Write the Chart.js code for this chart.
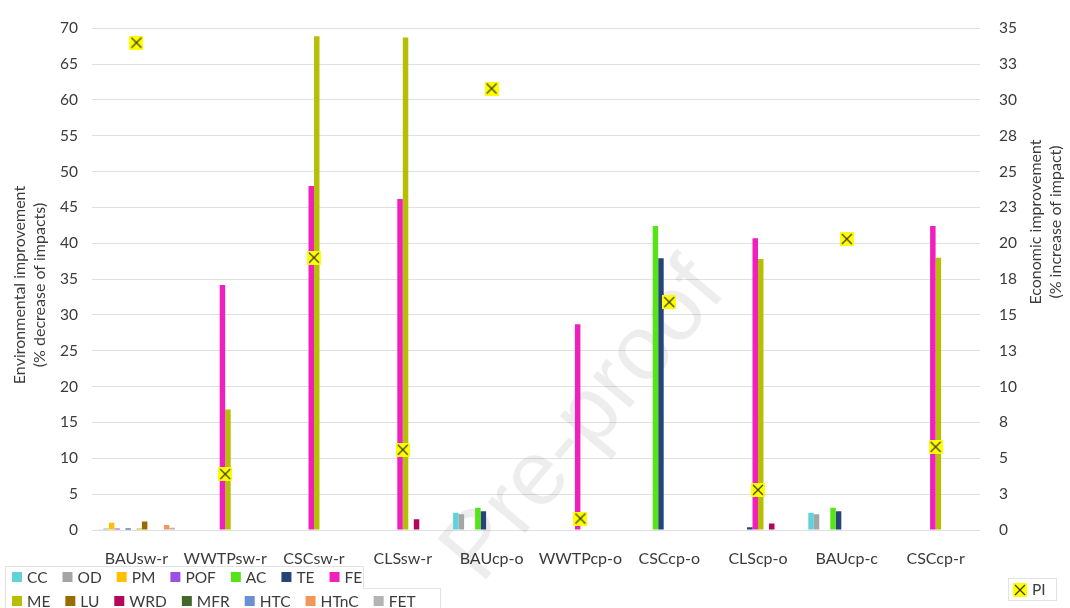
<!DOCTYPE html>
<html>
<head>
<meta charset="utf-8">
<script src="https://cdn.jsdelivr.net/npm/chart.js@4.4.0/dist/chart.umd.min.js"></script>
<style>
  html, body { margin: 0; padding: 0; background: #ffffff; }
  #wrap { width: 1070px; height: 608px; position: relative; }
</style>
</head>
<body>
<div id="wrap"><canvas id="c" width="1070" height="608"></canvas></div>
<script>
// Scenarios on the category axis
const categories = ['BAUsw-r', 'WWTPsw-r', 'CSCsw-r', 'CLSsw-r', 'BAUcp-o', 'WWTPcp-o', 'CSCcp-o', 'CLScp-o', 'BAUcp-c', 'CSCcp-r'];

// Environmental improvement per impact category (% decrease of impacts)
const ccValues   = [0.1, 0, 0, 0, 2.4, 0, 0, 0, 2.4, 0];
const odValues   = [0.2, 0, 0, 0, 2.2, 0, 0, 0, 2.2, 0];
const pmValues   = [1.0, 0, 0, 0, 0, 0, 0, 0, 0, 0];
const pofValues  = [0.2, 0, 0, 0, 0, 0, 0, 0, 0, 0];
const acValues   = [0, 0, 0, 0, 3.1, 0, 42.4, 0, 3.1, 0];
const teValues   = [0.2, 0, 0, 0, 2.6, 0, 37.9, 0.4, 2.6, 0];
const feValues   = [0, 34.2, 48.0, 46.2, 0, 28.7, 0, 40.7, 0, 42.4];
const meValues   = [0.2, 16.8, 68.9, 68.7, 0, 0, 0, 37.8, 0, 38.0];
const luValues   = [1.2, 0, 0, 0, 0, 0, 0, 0, 0, 0];
const wrdValues  = [0, 0, 0, 1.5, 0, 0, 0, 0.9, 0, 0];
const mfrValues  = [0, 0, 0, 0, 0, 0, 0, 0, 0, 0];
const htcValues  = [0, 0, 0, 0, 0, 0, 0, 0, 0, 0];
const htncValues = [0.7, 0, 0, 0, 0, 0, 0, 0, 0, 0];
const fetValues  = [0.3, 0, 0, 0, 0, 0, 0, 0, 0, 0];

// Economic improvement (% increase of impact), right axis
const piValues = [34.0, 3.9, 19.0, 5.6, 30.8, 0.8, 15.9, 2.8, 20.3, 5.8];

// Axis tick labels
const leftTickLabels  = ['0', '5', '10', '15', '20', '25', '30', '35', '40', '45', '50', '55', '60', '65', '70'];
const rightTickLabels = ['0', '3', '5', '8', '10', '13', '15', '18', '20', '23', '25', '28', '30', '33', '35'];

const FONT = 'Lato, "Open Sans", sans-serif';
const TEXT = '#3b3b3b';

// Yellow square with an X, used for the PI points and its legend key
function makeMarker(size) {
  const c = document.createElement('canvas');
  c.width = size; c.height = size;
  const g = c.getContext('2d');
  g.fillStyle = '#ffff00';
  g.fillRect(0, 0, size, size);
  g.strokeStyle = '#3f3f10';
  g.lineWidth = 1.3;
  g.beginPath();
  g.moveTo(2, 2); g.lineTo(size - 2, size - 2);
  g.moveTo(size - 2, 2); g.lineTo(2, size - 2);
  g.stroke();
  return c;
}
const piMarker = makeMarker(14);

function barSet(label, data, color) {
  return { type: 'bar', label, data, backgroundColor: color, borderWidth: 0, yAxisID: 'y', order: 2 };
}

const datasets = [
  barSet('CC', ccValues, '#62d2da'),
  barSet('OD', odValues, '#a5a5a5'),
  barSet('PM', pmValues, '#ffc000'),
  barSet('POF', pofValues, '#9d4fe3'),
  barSet('AC', acValues, '#57e319'),
  barSet('TE', teValues, '#264478'),
  barSet('FE', feValues, '#f020bd'),
  barSet('ME', meValues, '#b6bf05'),
  barSet('LU', luValues, '#9a6c00'),
  barSet('WRD', wrdValues, '#b3085a'),
  barSet('MFR', mfrValues, '#43682b'),
  barSet('HTC', htcValues, '#6a8fd2'),
  barSet('HTnC', htncValues, '#f1975a'),
  barSet('FET', fetValues, '#b4b4b4'),
  {
    type: 'line', label: 'PI', data: piValues, yAxisID: 'y2', order: 1,
    showLine: false, pointStyle: piMarker, pointRadius: 7, pointHoverRadius: 7,
    backgroundColor: '#ffff00', borderColor: '#3f3f10'
  }
];

// Faint "Pre-proof" stamp behind the bars
const stampPlugin = {
  id: 'stamp',
  beforeDatasetsDraw(chart) {
    const ctx = chart.ctx;
    ctx.save();
    ctx.translate(585, 422);
    ctx.rotate(-50 * Math.PI / 180);
    ctx.font = '92px "Liberation Sans", Arial, sans-serif';
    ctx.fillStyle = 'rgba(0,0,0,0.07)';
    ctx.textAlign = 'center';
    ctx.textBaseline = 'middle';
    ctx.fillText('Pre-proof', 0, 0);
    ctx.restore();
  }
};

// Axis titles (both read bottom-to-top) and the two-row legend
const decorPlugin = {
  id: 'decor',
  afterDraw(chart) {
    const ctx = chart.ctx;
    ctx.save();
    ctx.fillStyle = TEXT;
    ctx.font = '16px ' + FONT;
    ctx.textAlign = 'center';
    ctx.textBaseline = 'middle';

    const titles = [
      { x: 20, y: 285, lines: ['Environmental improvement', '(% decrease of impacts)'] },
      { x: 1036, y: 222, lines: ['Economic improvement', '(% increase of impact)'] }
    ];
    titles.forEach(t => {
      t.lines.forEach((line, i) => {
        ctx.save();
        ctx.translate(t.x + i * 20, t.y);
        ctx.rotate(-Math.PI / 2);
        ctx.fillText(line, 0, 0);
        ctx.restore();
      });
    });

    // legend frame
    ctx.strokeStyle = '#e2e2e2';
    ctx.lineWidth = 1;
    ctx.beginPath();
    ctx.moveTo(5.5, 608); ctx.lineTo(5.5, 566.5); ctx.lineTo(363.5, 566.5);
    ctx.lineTo(363.5, 588.5); ctx.lineTo(440.5, 588.5); ctx.lineTo(440.5, 608);
    ctx.stroke();
    ctx.strokeRect(1008.5, 578.5, 48, 22);

    // legend entries
    ctx.font = '15.5px ' + FONT;
    ctx.textAlign = 'left';
    const bars = chart.data.datasets.filter(d => d.type === 'bar');
    const rows = [bars.slice(0, 7), bars.slice(7)];
    const rowY = [577, 601];
    rows.forEach((row, r) => {
      let x = 12;
      row.forEach(d => {
        ctx.fillStyle = d.backgroundColor;
        ctx.fillRect(x, rowY[r] - 5, 10, 10);
        ctx.fillStyle = TEXT;
        ctx.fillText(d.label, x + 15, rowY[r] + 1);
        x += 15 + ctx.measureText(d.label).width + 15;
      });
    });
    const pi = chart.data.datasets.find(d => d.label === 'PI');
    ctx.drawImage(pi.pointStyle, 1013, 583);
    ctx.fillStyle = TEXT;
    ctx.fillText(pi.label, 1032, 590);
    ctx.restore();
  }
};

new Chart(document.getElementById('c'), {
  data: { labels: categories, datasets },
  options: {
    responsive: false,
    animation: false,
    layout: { padding: { top: 22, right: 0, bottom: 0, left: 0 } },
    datasets: { bar: { barPercentage: 1.0, categoryPercentage: 0.867 } },
    plugins: { legend: { display: false }, tooltip: { enabled: false } },
    scales: {
      x: {
        grid: { display: false },
        border: { display: false },
        ticks: { color: TEXT, font: { family: FONT, size: 16 }, padding: 11, maxRotation: 0, autoSkip: false },
        afterFit(scale) { scale.height = 78; }
      },
      y: {
        position: 'left',
        min: 0, max: 70,
        ticks: {
          stepSize: 5, color: TEXT, font: { family: FONT, size: 15.5 }, padding: 14,
          callback: (v, i) => leftTickLabels[i]
        },
        grid: { color: '#e0e0e0', lineWidth: 1, drawTicks: false },
        border: { display: false },
        afterFit(scale) { scale.width = 92; }
      },
      y2: {
        position: 'right',
        min: 0, max: 35,
        ticks: {
          stepSize: 2.5, color: TEXT, font: { family: FONT, size: 15.5 }, padding: 19,
          callback: (v, i) => rightTickLabels[i]
        },
        grid: { display: false, drawTicks: false },
        border: { display: false },
        afterFit(scale) { scale.width = 90; }
      }
    }
  },
  plugins: [stampPlugin, decorPlugin]
});
</script>
</body>
</html>
